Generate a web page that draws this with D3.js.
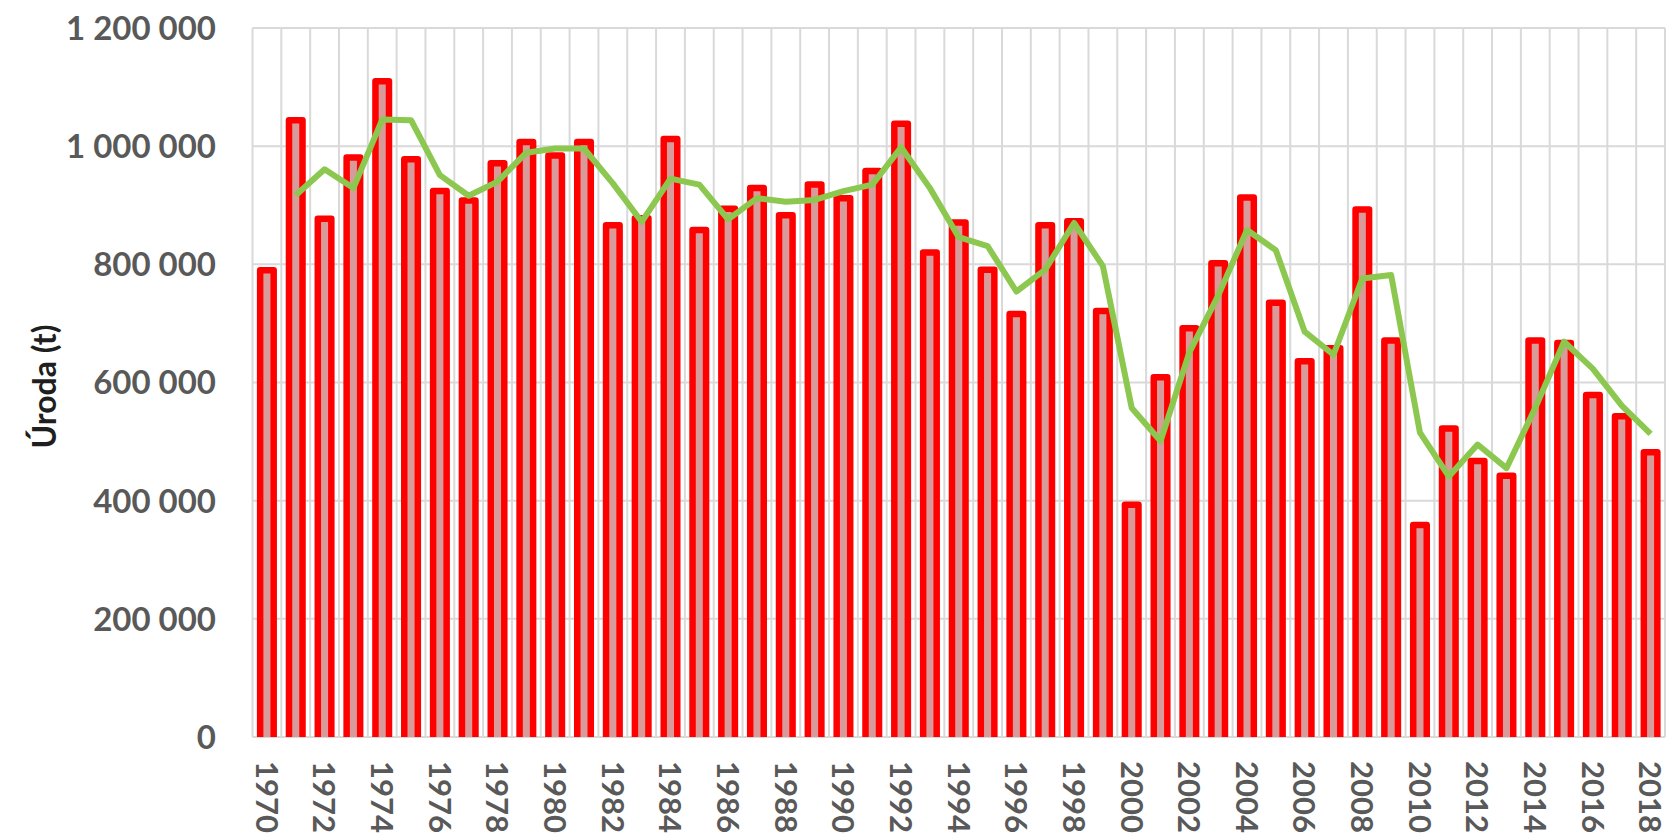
<!DOCTYPE html>
<html>
  <head>
    <meta charset="utf-8" />
    <title>Úroda</title>
    <script src="https://d3js.org/d3.v7.min.js"></script>
    <style>
      body {
          margin: 0;
          background: #fff;
      }
      text {
          font-family: Lato, "Open Sans", sans-serif;
      }
    </style>
  </head>
  <body>

    <svg id="chart"></svg>

    <script>
        // roky 1970-2018
        var years = d3.range(1970, 2019);

        // úroda (t)
        var harvest = [
            790000, 1044000, 877000, 981000, 1110000, 978000, 924000, 908000, 971000, 1007000,
            984000, 1007000, 866000, 878000, 1012000, 858000, 894000, 929000, 883000, 935000,
            912000, 958000, 1038000, 820000, 871000, 791000, 716000, 866000, 873000, 721000,
            393000, 609000, 692000, 802000, 913000, 735000, 636000, 658000, 893000, 671000,
            359000, 522000, 467000, 442000, 671000, 667000, 579000, 543000, 482000
        ];

        // klouzavý průměr (zelená čára), od roku 1971
        var trendYears = d3.range(1971, 2019);
        var trend = [
            917000, 961000, 929000, 1045000, 1044000, 951000, 916000, 940000, 989000, 996000,
            996000, 937000, 872000, 945000, 935000, 876000, 912000, 906000, 909000, 924000,
            935000, 998000, 929000, 846000, 831000, 754000, 791000, 870000, 797000, 557000,
            501000, 651000, 747000, 858000, 824000, 686000, 647000, 776000, 782000, 515000,
            441000, 495000, 455000, 557000, 669000, 623000, 561000, 513000
        ];

        var yTicks = [0, 200000, 400000, 600000, 800000, 1000000, 1200000];
        var yLabel = "Úroda (t)";

        var width = 1669;
        var height = 837;
        var margin = {top: 28, right: 4, bottom: 100, left: 252.5};
        var chartWidth = width - margin.left - margin.right;
        var chartHeight = height - margin.top - margin.bottom;

        var svg = d3.select("#chart")
          .attr("width", width)
          .attr("height", height);

        var x = d3.scaleBand()
          .domain(years)
          .range([margin.left, margin.left + chartWidth]);

        var y = d3.scaleLinear()
          .domain([0, 1200000])
          .range([margin.top + chartHeight, margin.top]);

        var fmt = function(d) {
            return d3.format(",")(d).replace(/,/g, " ");
        };

        // grid
        var grid = svg.append("g").attr("stroke", "#d9d9d9").attr("stroke-width", 2);
        grid.selectAll(".hgrid")
          .data(yTicks)
          .enter().append("line")
            .attr("x1", margin.left)
            .attr("x2", margin.left + chartWidth)
            .attr("y1", function(d) { return y(d); })
            .attr("y2", function(d) { return y(d); });

        grid.selectAll(".vgrid")
          .data(years.concat([2019]))
          .enter().append("line")
            .attr("x1", function(d, i) { return margin.left + i * x.step(); })
            .attr("x2", function(d, i) { return margin.left + i * x.step(); })
            .attr("y1", y(1200000))
            .attr("y2", y(0));

        // y axis labels
        svg.append("g").selectAll("text")
          .data(yTicks)
          .enter().append("text")
            .attr("x", 216)
            .attr("y", function(d) { return y(d); })
            .attr("dy", "0.36em")
            .attr("text-anchor", "end")
            .attr("font-size", 33)
            .attr("font-weight", 700)
            .attr("fill", "#595959")
            .text(fmt);

        // y title
        svg.append("text")
          .attr("transform", "translate(44," + (margin.top + chartHeight / 2 + 4) + ") rotate(-90)")
          .attr("text-anchor", "middle")
          .attr("dy", "0.36em")
          .attr("font-size", 32)
          .attr("font-weight", 700)
          .attr("fill", "#1f1f1f")
          .text(yLabel);

        // x labels (každý druhý rok)
        svg.append("g").selectAll("text")
          .data(years.filter(function(d) { return d % 2 === 0; }))
          .enter().append("text")
            .attr("transform", function(d) {
                return "translate(" + (x(d) + x.bandwidth() / 2) + "," + 761 + ") rotate(90)";
            })
            .attr("dy", "0.36em")
            .attr("text-anchor", "start")
            .attr("font-size", 31)
            .attr("font-weight", 700)
            .attr("fill", "#595959")
            .text(function(d) { return d; });

        // bars
        svg.append("clipPath").attr("id", "plot")
          .append("rect")
            .attr("x", margin.left)
            .attr("y", 0)
            .attr("width", chartWidth)
            .attr("height", y(0));

        var barW = x.bandwidth() * 0.47;

        svg.append("g")
          .attr("clip-path", "url(#plot)")
          .selectAll(".bar")
          .data(harvest)
          .enter().append("rect")
            .attr("class", "bar")
            .attr("x", function(d, i) { return x(years[i]) + (x.bandwidth() - barW) / 2; })
            .attr("width", barW)
            .attr("y", function(d) { return y(d); })
            .attr("height", function(d) { return y(0) - y(d) + 6; })
            .attr("fill", "#d99a9a")
            .attr("stroke", "#ff0000")
            .attr("stroke-width", 6.5)
            .attr("stroke-linejoin", "round");

        // trend line
        var line = d3.line()
          .x(function(d, i) { return x(trendYears[i]) + x.bandwidth() / 2; })
          .y(function(d) { return y(d); });

        svg.append("path")
          .datum(trend)
          .attr("d", line)
          .attr("fill", "none")
          .attr("stroke", "#8cc850")
          .attr("stroke-width", 6)
          .attr("stroke-linejoin", "round");
    </script>
  </body>
</html>
